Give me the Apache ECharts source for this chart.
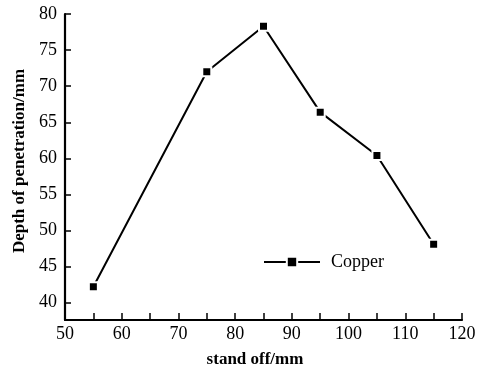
<!DOCTYPE html>
<html>
<head>
<meta charset="utf-8">
<script src="https://cdn.jsdelivr.net/npm/echarts@6/dist/echarts.min.js"></script>
<style>
  html, body { margin: 0; padding: 0; background: #fff; }
  #chart { width: 483px; height: 370px; }
</style>
</head>
<body>
<div id="chart"></div>
<script>
var standOff = [55, 75, 85, 95, 105, 115];
var depth = [42.2, 72.0, 78.3, 66.4, 60.4, 48.1];
var xTicks = [50, 55, 60, 65, 70, 75, 80, 85, 90, 95, 100, 105, 110, 115, 120];
var xLabels = [50, 60, 70, 80, 90, 100, 110, 120];
var yTicks = [40, 45, 50, 55, 60, 65, 70, 75, 80];

var font = '"Liberation Serif", "DejaVu Serif", serif';

var axisLineStyle = {
  color: '#000',
  width: 2.2
};

var myChart = echarts.init(document.getElementById('chart'));

var option = {
  animation: false,
  backgroundColor: '#fff',
  grid: {
    left: 65,
    right: 21,
    top: 14,
    bottom: 50,
    outerBoundsMode: 'none'
  },
  legend: {
    left: 258,
    top: 248,
    itemWidth: 56,
    itemHeight: 13,
    itemGap: 10,
    textStyle: {
      fontFamily: font,
      fontSize: 18,
      color: '#000',
      padding: [0, 0, 0, 6]
    },
    data: ['Copper']
  },
  xAxis: {
    type: 'value',
    min: 50,
    max: 120,
    name: 'stand off/mm',
    nameLocation: 'middle',
    nameGap: 31,
    nameTextStyle: {
      fontFamily: font,
      fontSize: 17,
      fontWeight: 'bold',
      color: '#000',
      padding: [0, 17, 0, 0]
    },
    axisLine: { show: true, lineStyle: axisLineStyle },
    axisTick: {
      show: true,
      inside: true,
      length: 7,
      customValues: xTicks,
      lineStyle: { color: '#000', width: 1.5 }
    },
    axisLabel: {
      customValues: xLabels,
      fontFamily: font,
      fontSize: 18,
      color: '#000',
      margin: 5
    },
    splitLine: { show: false }
  },
  yAxis: {
    type: 'value',
    min: 37.6,
    max: 80,
    name: 'Depth of penetration/mm',
    nameLocation: 'middle',
    nameGap: 36,
    nameTextStyle: {
      fontFamily: font,
      fontSize: 17,
      fontWeight: 'bold',
      color: '#000',
      padding: [0, 0, 0, 12]
    },
    axisLine: { show: true, lineStyle: axisLineStyle },
    axisTick: {
      show: true,
      inside: true,
      length: 6,
      customValues: yTicks,
      lineStyle: { color: '#000', width: 1.5 }
    },
    axisLabel: {
      customValues: yTicks,
      fontFamily: font,
      fontSize: 18,
      color: '#000',
      margin: 8
    },
    splitLine: { show: false }
  },
  series: [
    {
      name: 'Copper',
      type: 'line',
      data: standOff.map(function (x, i) { return [x, depth[i]]; }),
      symbol: 'rect',
      symbolSize: 9,
      lineStyle: { color: '#000', width: 2 },
      itemStyle: { color: '#000', borderColor: '#fff', borderWidth: 2 }
    }
  ]
};

myChart.setOption(option);
</script>
</body>
</html>
